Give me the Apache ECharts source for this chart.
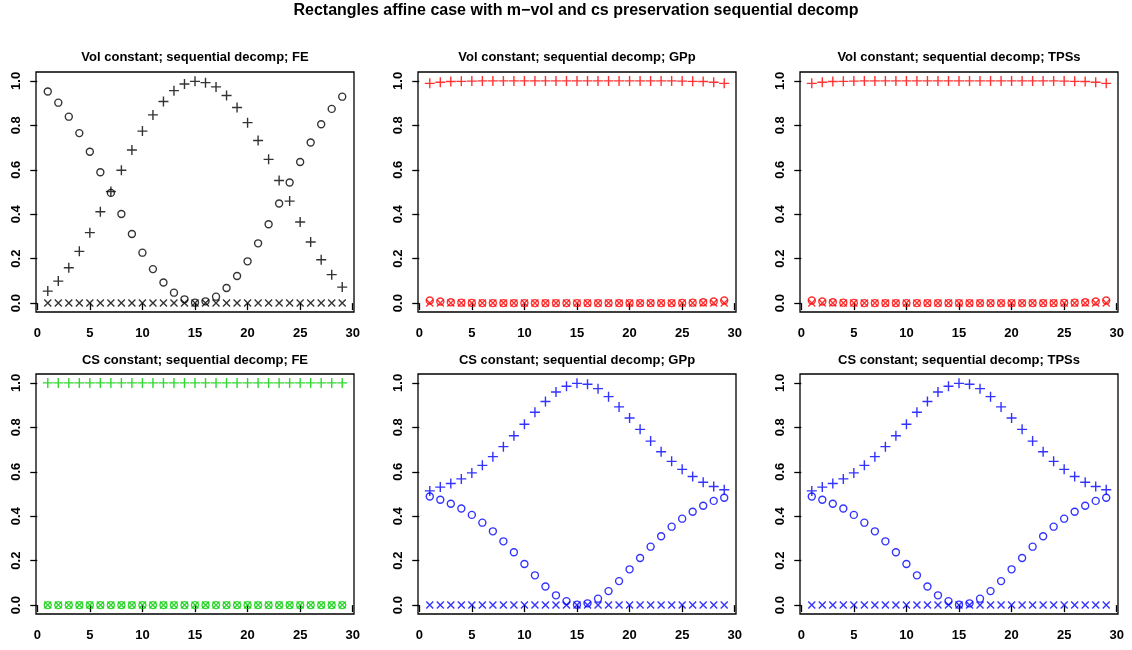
<!DOCTYPE html>
<html>
<head>
<meta charset="utf-8">
<script src="https://cdn.jsdelivr.net/npm/echarts@6/dist/echarts.min.js"></script>
<style>
  html, body { margin: 0; padding: 0; background: #fff; }
  #chart { width: 1132px; height: 650px; }
</style>
</head>
<body>
<div id="chart"></div>
<script>
// Index of each shape in the sequence
const steps = [1,2,3,4,5,6,7,8,9,10,11,12,13,14,15,16,17,18,19,20,21,22,23,24,25,26,27,28,29];

// Vol constant; FE
const volFE_o = [0.952,0.902,0.839,0.765,0.681,0.589,0.496,0.401,0.311,0.227,0.153,0.093,0.047,0.017,0.002,0.008,0.029,0.068,0.122,0.188,0.269,0.355,0.448,0.543,0.635,0.723,0.805,0.874,0.929];
const volFE_p = [0.054,0.099,0.159,0.233,0.317,0.411,0.502,0.598,0.689,0.774,0.847,0.907,0.956,0.986,0.998,0.992,0.973,0.934,0.880,0.812,0.732,0.647,0.552,0.459,0.365,0.275,0.195,0.128,0.072];
const volFE_x = [0,0,0,0,0,0,0,0,0,0,0,0,0,0,0,0,0,0,0,0,0,0,0,0,0,0,0,0,0];

// Vol constant; GPp
const volGP_o = [0.012,0.007,0.004,0.002,0.001,0,0,0,0,0,0,0,0,0,0,0,0,0,0,0,0,0,0,0,0.001,0.002,0.004,0.007,0.012];
const volGP_p = [0.989,0.994,0.997,0.998,0.999,1,1,1,1,1,1,1,1,1,1,1,1,1,1,1,1,1,1,1,0.999,0.998,0.997,0.994,0.989];
const volGP_x = [0,0,0,0,0,0,0,0,0,0,0,0,0,0,0,0,0,0,0,0,0,0,0,0,0,0,0,0,0];

// Vol constant; TPSs
const volTP_o = [0.012,0.007,0.004,0.002,0.001,0,0,0,0,0,0,0,0,0,0,0,0,0,0,0,0,0,0,0,0.001,0.002,0.004,0.007,0.012];
const volTP_p = [0.989,0.994,0.997,0.998,0.999,1,1,1,1,1,1,1,1,1,1,1,1,1,1,1,1,1,1,1,0.999,0.998,0.997,0.994,0.989];
const volTP_x = [0,0,0,0,0,0,0,0,0,0,0,0,0,0,0,0,0,0,0,0,0,0,0,0,0,0,0,0,0];

// CS constant; FE
const csFE_o = [0,0,0,0,0,0,0,0,0,0,0,0,0,0,0,0,0,0,0,0,0,0,0,0,0,0,0,0,0];
const csFE_p = [1,1,1,1,1,1,1,1,1,1,1,1,1,1,1,1,1,1,1,1,1,1,1,1,1,1,1,1,1];
const csFE_x = [0,0,0,0,0,0,0,0,0,0,0,0,0,0,0,0,0,0,0,0,0,0,0,0,0,0,0,0,0];

// CS constant; GPp
const csGP_o = [0.489,0.474,0.456,0.435,0.406,0.371,0.332,0.287,0.238,0.185,0.134,0.084,0.044,0.018,0.002,0.008,0.029,0.063,0.108,0.161,0.212,0.263,0.310,0.353,0.389,0.420,0.447,0.469,0.483];
const csGP_p = [0.514,0.531,0.547,0.568,0.595,0.629,0.668,0.713,0.762,0.814,0.868,0.916,0.959,0.985,0.998,0.994,0.974,0.938,0.892,0.842,0.791,0.738,0.690,0.647,0.611,0.579,0.553,0.534,0.519];
const csGP_x = [0,0,0,0,0,0,0,0,0,0,0,0,0,0,0,0,0,0,0,0,0,0,0,0,0,0,0,0,0];

// CS constant; TPSs
const csTP_o = [0.489,0.474,0.456,0.435,0.406,0.371,0.332,0.287,0.238,0.185,0.134,0.084,0.044,0.018,0.002,0.008,0.029,0.063,0.108,0.161,0.212,0.263,0.310,0.353,0.389,0.420,0.447,0.469,0.483];
const csTP_p = [0.514,0.531,0.547,0.568,0.595,0.629,0.668,0.713,0.762,0.814,0.868,0.916,0.959,0.985,0.998,0.994,0.974,0.938,0.892,0.842,0.791,0.738,0.690,0.647,0.611,0.579,0.553,0.534,0.519];
const csTP_x = [0,0,0,0,0,0,0,0,0,0,0,0,0,0,0,0,0,0,0,0,0,0,0,0,0,0,0,0,0];

const xTicks = [0,5,10,15,20,25,30];
const yTicks = [0,0.2,0.4,0.6,0.8,1.0];

const mainTitle = 'Rectangles affine case with m\u2212vol and cs preservation sequential decomp';

const panels = [
  { title: 'Vol constant; sequential decomp; FE',   color: '#000000', o: volFE_o, p: volFE_p, x: volFE_x },
  { title: 'Vol constant; sequential decomp; GPp',  color: '#ff0000', o: volGP_o, p: volGP_p, x: volGP_x },
  { title: 'Vol constant; sequential decomp; TPSs', color: '#ff0000', o: volTP_o, p: volTP_p, x: volTP_x },
  { title: 'CS constant; sequential decomp; FE',    color: '#00cd00', o: csFE_o, p: csFE_p, x: csFE_x },
  { title: 'CS constant; sequential decomp; GPp',   color: '#0000ff', o: csGP_o, p: csGP_p, x: csGP_x },
  { title: 'CS constant; sequential decomp; TPSs',  color: '#0000ff', o: csTP_o, p: csTP_p, x: csTP_x }
];

// Page layout (pixels)
const colLeft = [36, 418, 800];
const rowTop = [72, 374];
const boxW = 318, boxH = 240;
const titleY = [57, 360.5];
const FONT = '"Liberation Sans", Arial, Helvetica, sans-serif';

const PLUS = 'path://M0,5L10,5M5,0L5,10';
const CROSS = 'path://M0,0L10,10M0,10L10,0';

const grids = [], xAxes = [], yAxes = [], series = [], graphics = [];

graphics.push({
  type: 'text', x: 576, y: 10.5,
  style: { text: mainTitle, font: 'bold 16px ' + FONT, fill: '#000', textAlign: 'center', textVerticalAlign: 'middle' }
});

panels.forEach((pn, i) => {
  const r = Math.floor(i / 3), c = i % 3;
  grids.push({
    left: colLeft[c], top: rowTop[r], width: boxW, height: boxH,
    show: true, borderColor: '#000', borderWidth: 1.3, backgroundColor: 'transparent'
  });
  xAxes.push({
    type: 'value', gridIndex: i, min: -0.12, max: 30.12,
    axisLine: { show: false },
    splitLine: { show: false },
    axisTick: { show: true, length: 7, customValues: xTicks, lineStyle: { color: '#000', width: 1.3 } },
    axisLabel: { customValues: xTicks, margin: 15, color: '#000', fontSize: 13, fontWeight: 'bold', fontFamily: FONT }
  });
  yAxes.push({
    type: 'value', gridIndex: i, min: -0.04, max: 1.04,
    axisLine: { show: false },
    splitLine: { show: false },
    axisTick: { show: true, length: 7, customValues: yTicks, lineStyle: { color: '#000', width: 1.3 } },
    axisLabel: {
      customValues: yTicks, margin: 13, rotate: 90, color: '#000', fontSize: 13, fontWeight: 'bold', fontFamily: FONT,
      formatter: v => v.toFixed(1)
    }
  });
  const base = {
    type: 'scatter', xAxisIndex: i, yAxisIndex: i, silent: true,
    emphasis: { disabled: true }
  };
  const st = { color: 'rgba(0,0,0,0)', borderColor: pn.color, borderWidth: 1.4 };
  series.push(Object.assign({}, base, {
    name: 'o' + i, symbol: 'circle', symbolSize: 7, itemStyle: st,
    data: steps.map((s, k) => [s, pn.o[k]])
  }));
  series.push(Object.assign({}, base, {
    name: 'p' + i, symbol: PLUS, symbolSize: 10, itemStyle: st,
    data: steps.map((s, k) => [s, pn.p[k]])
  }));
  series.push(Object.assign({}, base, {
    name: 'x' + i, symbol: CROSS, symbolSize: 7, itemStyle: st,
    data: steps.map((s, k) => [s, pn.x[k]])
  }));
  graphics.push({
    type: 'text', x: colLeft[c] + boxW / 2, y: titleY[r],
    style: { text: pn.title, font: 'bold 13px ' + FONT, fill: '#000', textAlign: 'center', textVerticalAlign: 'middle' }
  });
});

const chart = echarts.init(document.getElementById('chart'), null, { renderer: 'canvas' });
chart.setOption({
  animation: false,
  backgroundColor: '#fff',
  grid: grids,
  xAxis: xAxes,
  yAxis: yAxes,
  series: series,
  graphic: graphics
});
</script>
</body>
</html>
